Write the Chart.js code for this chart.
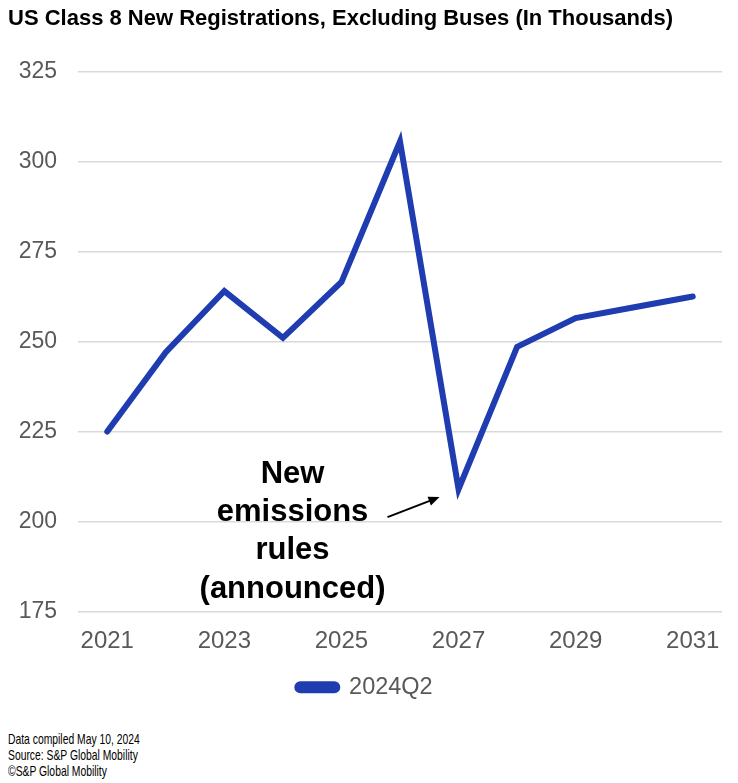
<!DOCTYPE html>
<html>
<head>
<meta charset="utf-8">
<script src="https://cdn.jsdelivr.net/npm/chart.js@4.4.1/dist/chart.umd.min.js"></script>
<style>
  body { margin: 0; background: #fff; }
  #wrap { position: relative; width: 738px; height: 783px; }
  #chart { position: absolute; left: 0; top: 0; }
  #foot {
    position: absolute; left: 8px; top: 731px;
    font-family: 'Liberation Sans', Arial, sans-serif;
    font-size: 15px; line-height: 16px; color: #000;
    transform: scaleX(0.69); transform-origin: left top;
    white-space: nowrap;
  }
</style>
</head>
<body>
<div id="wrap">
  <canvas id="chart" width="738" height="715"></canvas>
  <div id="foot">Data compiled May 10, 2024<br>Source: S&amp;P Global Mobility<br>©S&amp;P Global Mobility</div>
</div>
<script>
const YEARS = ['2021', '2022', '2023', '2024', '2025', '2026', '2027', '2028', '2029', '2030', '2031'];
const REGISTRATIONS = [225, 247, 264, 251, 266.5, 305.5, 209, 248.5, 256.5, 259.5, 262.5];
const SERIES_NAME = '2024Q2';
const NOTE_LINES = ['New', 'emissions', 'rules', '(announced)'];

const BLUE = '#1f3cb0';
const TICK_COLOR = '#595959';
const FONT = "'Liberation Sans', Arial, sans-serif";

// texte + flèche de l'annotation, placés par rapport au point 2027
const notePlugin = {
  id: 'note',
  afterDatasetsDraw(chart) {
    const ctx = chart.ctx;
    const x = chart.scales.x, y = chart.scales.y;
    const px = x.getPixelForValue(6);
    const py = y.getPixelForValue(REGISTRATIONS[6]);
    ctx.save();
    ctx.fillStyle = '#000';
    ctx.font = 'bold 31px ' + FONT;
    ctx.textAlign = 'center';
    ctx.textBaseline = 'middle';
    const cx = px - 166;
    NOTE_LINES.forEach((t, i) => ctx.fillText(t, cx, py - 15 + i * 38.3));
    // flèche
    const x0 = px - 71, y0 = py + 28, x1 = px - 19, y1 = py + 8;
    ctx.strokeStyle = '#000';
    ctx.lineWidth = 2;
    ctx.beginPath();
    ctx.moveTo(x0, y0);
    ctx.lineTo(x1 - 6, y1 + 2.3);
    ctx.stroke();
    const a = Math.atan2(y1 - y0, x1 - x0);
    ctx.beginPath();
    ctx.moveTo(x1, y1);
    ctx.lineTo(x1 - 12 * Math.cos(a - 0.4), y1 - 12 * Math.sin(a - 0.4));
    ctx.lineTo(x1 - 12 * Math.cos(a + 0.4), y1 - 12 * Math.sin(a + 0.4));
    ctx.closePath();
    ctx.fill();
    ctx.restore();
  }
};

new Chart(document.getElementById('chart'), {
  type: 'line',
  data: {
    labels: YEARS,
    datasets: [{
      label: SERIES_NAME,
      data: REGISTRATIONS,
      borderColor: BLUE,
      backgroundColor: BLUE,
      borderWidth: 6,
      pointRadius: 0,
      tension: 0,
      borderCapStyle: 'round',
      borderJoinStyle: 'miter',
    }]
  },
  options: {
    responsive: false,
    animation: false,
    layout: { padding: { left: 8, right: 16, top: 0, bottom: 6 } },
    plugins: {
      title: {
        display: true,
        text: 'US Class 8 New Registrations, Excluding Buses (In Thousands)',
        align: 'start',
        color: '#000',
        font: { family: FONT, size: 22, weight: 'bold' },
        padding: { top: 6, bottom: 39 }
      },
      legend: {
        position: 'bottom',
        labels: {
          color: TICK_COLOR,
          font: { family: FONT, size: 23.5 },
          boxWidth: 40,
          boxHeight: 6,
          useBorderRadius: true,
          borderRadius: 3,
          padding: 6,
        }
      },
      tooltip: { enabled: false }
    },
    scales: {
      x: {
        offset: true,
        grid: { display: false },
        border: { display: false },
        afterFit: (s) => { s.height = 58; },
        ticks: {
          color: TICK_COLOR,
          font: { family: FONT, size: 24 },
          autoSkip: false,
          maxRotation: 0,
          padding: 7,
          callback: (v, i) => (i % 2 === 0 ? YEARS[i] : '')
        }
      },
      y: {
        min: 175,
        max: 325,
        grid: { color: '#d9d9d9', lineWidth: 1.5, drawTicks: false },
        border: { display: false },
        afterFit: (s) => { s.width = 70; },
        ticks: {
          stepSize: 25,
          color: TICK_COLOR,
          font: { family: FONT, size: 23 },
          padding: 21
        }
      }
    }
  },
  plugins: [notePlugin]
});
</script>
</body>
</html>
